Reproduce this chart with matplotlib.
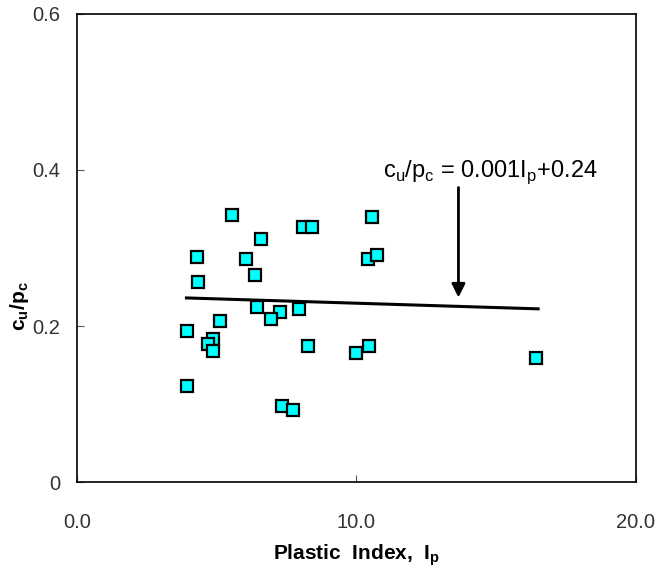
import matplotlib
matplotlib.use("Agg")
import matplotlib.pyplot as plt

# plastic index vs cu/pc
plastic_index = [5.55, 8.09, 8.42, 10.54, 6.58, 4.28, 6.06, 10.42, 10.73,
                 6.36, 4.34, 6.46, 7.27, 6.93, 7.96, 5.13, 3.93, 4.86, 4.68,
                 4.86, 8.25, 10.45, 9.98, 3.93, 7.33, 7.74, 16.43]
cu_pc = [0.342, 0.327, 0.327, 0.340, 0.312, 0.288, 0.286, 0.286, 0.291,
         0.265, 0.256, 0.224, 0.218, 0.209, 0.222, 0.206, 0.193, 0.183, 0.177,
         0.168, 0.175, 0.175, 0.165, 0.123, 0.098, 0.093, 0.159]

fit_x = [3.92, 16.5]
fit_y = [0.236, 0.222]

arrow_x = 13.65
arrow_top = 0.381
arrow_tip = 0.233

plt.rcParams['font.family'] = ['Liberation Sans', 'DejaVu Sans']
plt.rcParams['mathtext.fontset'] = 'custom'
plt.rcParams['mathtext.rm'] = 'Liberation Sans'
plt.rcParams['mathtext.bf'] = 'Liberation Sans:bold'

fig = plt.figure(figsize=(6.57, 5.74), dpi=100)
ax = fig.add_axes([0.117, 0.160, 0.851, 0.816])

ax.plot(fit_x, fit_y, color='black', lw=2.2)
ax.plot(plastic_index, cu_pc, 's', ms=9, mfc='#00FFFF', mec='black', mew=1.6)

ax.annotate('', xy=(arrow_x, arrow_tip), xytext=(arrow_x, arrow_top),
            arrowprops=dict(arrowstyle='-|>', color='black', lw=2,
                            mutation_scale=20))
ax.text(14.8, 0.397, r'c$_\mathrm{u}$/p$_\mathrm{c}$ = 0.001I$_\mathrm{p}$+0.24',
        ha='center', va='center', fontsize=17)

ax.set_xlim(0, 20)
ax.set_ylim(0, 0.6)
ax.set_xticks([0, 10, 20])
ax.set_xticklabels(['0.0', '10.0', '20.0'])
ax.set_yticks([0, 0.2, 0.4, 0.6])
ax.set_yticklabels(['0', '0.2', '0.4', '0.6'])
ax.tick_params(direction='in', length=5, labelsize=14.5, labelcolor='#333333',
               color='#555555')
ax.tick_params(axis='x', pad=22)
ax.tick_params(axis='y', pad=12)

ax.set_xlabel(r'Plastic  Index,  I$_\mathbf{p}$', fontsize=15, fontweight='bold')
ax.xaxis.set_label_coords(0.5, -0.128)
ax.set_ylabel(r'c$_\mathbf{u}$/p$_\mathbf{c}$', fontsize=15, fontweight='bold')
ax.yaxis.set_label_coords(-0.082, 0.376)

for s in ax.spines.values():
    s.set_linewidth(1.2)

fig.savefig('out.png', dpi=100)
